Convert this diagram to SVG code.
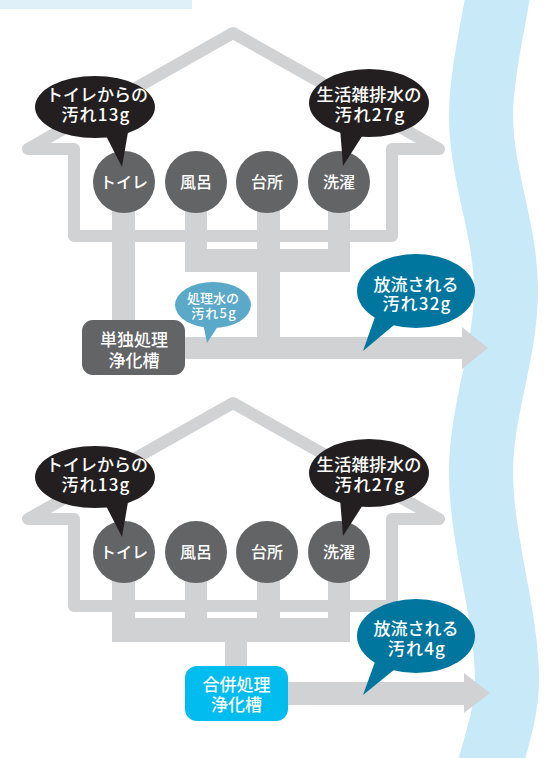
<svg xmlns="http://www.w3.org/2000/svg" width="551" height="758" viewBox="0 0 551 758">
<style>
.pipe{fill:#d1d2d4}
.house{fill:none;stroke:#d1d2d4;stroke-width:12;stroke-linejoin:round;stroke-linecap:round}
.fix{fill:#636466}
.blk{fill:#231f20}
.t{font-family:"Noto Sans CJK JP","Noto Sans",sans-serif;fill:#fff;text-anchor:middle;font-weight:500}
.n{letter-spacing:1.2px}
</style>
<rect x="0" y="0" width="192" height="9" fill="#dff0f8"/>
<path d="M506 -75 C506 -20 481 60 481 115 C481 175 506 230 506 290 C506 353 481 410 481 472 C481 540 507 615 507 680 C507 715 495 745 480 800" fill="none" stroke="#c7e9f8" stroke-width="64"/>

<g id="house-top">
<path class="house" d="M74 236 L74 149 L28 149 L233 33 L439 149 L392 149 L392 236 Z"/>
</g>
<g id="connectors-top">
<rect class="pipe" x="112" y="182" width="23" height="145"/>
<rect class="pipe" x="185" y="182" width="22" height="90"/>
<rect class="pipe" x="257" y="182" width="23" height="160"/>
<rect class="pipe" x="328" y="182" width="22" height="90"/>
<rect class="pipe" x="185" y="249" width="165" height="23"/>
<polygon class="pipe" points="150,337 462,337 462,327 488,348 462,369 462,359 150,359"/>
</g>
<g id="toilet-top"><circle class="fix" cx="124" cy="182" r="31"/><text class="t" x="124" y="188" font-size="16">トイレ</text></g>
<g id="bath-top"><circle class="fix" cx="196" cy="182" r="31"/><text class="t" x="196" y="188" font-size="16">風呂</text></g>
<g id="kitchen-top"><circle class="fix" cx="267" cy="182" r="31"/><text class="t" x="267" y="188" font-size="16">台所</text></g>
<g id="laundry-top"><circle class="fix" cx="339" cy="182" r="31"/><text class="t" x="339" y="188" font-size="16">洗濯</text></g>
<g id="bubble-toilet-top">
<polygon class="blk" points="103,130 128,132 122,167"/>
<ellipse class="blk" cx="95" cy="107" rx="60" ry="31"/>
<text class="t" x="97" y="100.5" font-size="17">トイレからの</text>
<text class="t n" x="96" y="121" font-size="17">汚れ13g</text>
</g>
<g id="bubble-gray-top">
<polygon class="blk" points="340,128 366,130 343,166"/>
<ellipse class="blk" cx="369" cy="103" rx="60" ry="34"/>
<text class="t" x="369" y="100.5" font-size="17.5">生活雑排水の</text>
<text class="t n" x="370" y="121" font-size="17.5">汚れ27g</text>
</g>
<g id="tank-single">
<rect x="82" y="320" width="103" height="55" rx="11" fill="#636466"/>
<text class="t" x="134" y="346" font-size="17">単独処理</text>
<text class="t" x="134" y="366.5" font-size="17">浄化槽</text>
</g>
<g id="bubble-treated">
<polygon points="202,318 222,320 207,343" fill="#5aa9c9"/>
<ellipse cx="213" cy="305" rx="38" ry="23" fill="#5aa9c9"/>
<text class="t" x="213" y="302.5" font-size="13">処理水の</text>
<text class="t n" x="214" y="318" font-size="13">汚れ5g</text>
</g>
<g id="bubble-out-top">
<polygon points="376,314 400,320 363,351" fill="#00769f"/>
<ellipse cx="416" cy="291" rx="59" ry="37" fill="#00769f"/>
<text class="t" x="416" y="290.5" font-size="17">放流される</text>
<text class="t n" x="417" y="310" font-size="17">汚れ32g</text>
</g>

<g id="house-bottom">
<path class="house" d="M74 606 L74 519 L28 519 L233 403 L439 519 L392 519 L392 606 Z"/>
</g>
<g id="connectors-bottom">
<rect class="pipe" x="112" y="552" width="23" height="90"/>
<rect class="pipe" x="185" y="552" width="22" height="90"/>
<rect class="pipe" x="257" y="552" width="23" height="90"/>
<rect class="pipe" x="328" y="552" width="22" height="90"/>
<rect class="pipe" x="112" y="618" width="238" height="24"/>
<rect class="pipe" x="225" y="618" width="22" height="60"/>
<polygon class="pipe" points="260,682 464,682 464,673 490,693 464,713 464,705 260,705"/>
</g>
<g id="toilet-bottom"><circle class="fix" cx="124" cy="552" r="31"/><text class="t" x="124" y="558" font-size="16">トイレ</text></g>
<g id="bath-bottom"><circle class="fix" cx="196" cy="552" r="31"/><text class="t" x="196" y="558" font-size="16">風呂</text></g>
<g id="kitchen-bottom"><circle class="fix" cx="267" cy="552" r="31"/><text class="t" x="267" y="558" font-size="16">台所</text></g>
<g id="laundry-bottom"><circle class="fix" cx="339" cy="552" r="31"/><text class="t" x="339" y="558" font-size="16">洗濯</text></g>
<g id="bubble-toilet-bottom">
<polygon class="blk" points="103,500 128,502 122,537"/>
<ellipse class="blk" cx="95" cy="477" rx="60" ry="31"/>
<text class="t" x="97" y="470.5" font-size="17">トイレからの</text>
<text class="t n" x="96" y="491" font-size="17">汚れ13g</text>
</g>
<g id="bubble-gray-bottom">
<polygon class="blk" points="340,498 366,500 343,536"/>
<ellipse class="blk" cx="369" cy="473" rx="60" ry="34"/>
<text class="t" x="369" y="470.5" font-size="17.5">生活雑排水の</text>
<text class="t n" x="370" y="491" font-size="17.5">汚れ27g</text>
</g>
<g id="tank-combined">
<rect x="185" y="666" width="103" height="55" rx="12" fill="#00bcef"/>
<text class="t" x="236.5" y="691" font-size="17">合併処理</text>
<text class="t" x="236.5" y="711" font-size="17">浄化槽</text>
</g>
<g id="bubble-out-bottom">
<polygon points="376,659 400,665 363,695" fill="#00769f"/>
<ellipse cx="416" cy="636" rx="59" ry="37" fill="#00769f"/>
<text class="t" x="416" y="635" font-size="17">放流される</text>
<text class="t n" x="417" y="654.5" font-size="17">汚れ4g</text>
</g>
</svg>
